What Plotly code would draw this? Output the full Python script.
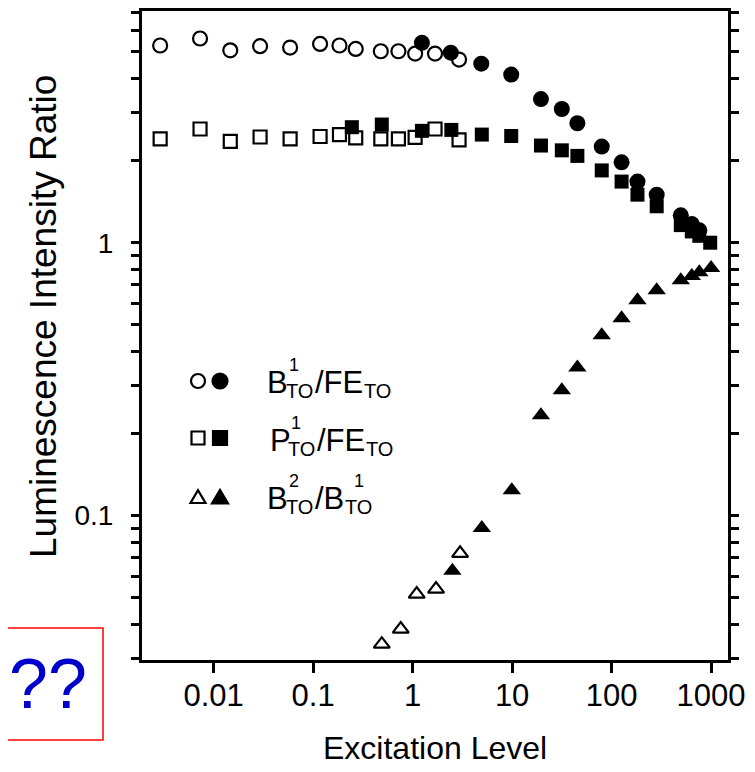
import plotly.graph_objects as go

# ---------------- data ----------------
x_open_circ = [0.0029, 0.0073, 0.0147, 0.0293, 0.0587, 0.1175, 0.184, 0.268, 0.479, 0.72, 1.06, 1.68, 2.93]
y_open_circ = [5.28, 5.6, 5.07, 5.25, 5.19, 5.35, 5.28, 5.13, 5.03, 5.03, 4.93, 4.93, 4.69]
x_fill_circ = [1.24, 2.42, 4.9, 9.8, 19.5, 31.6, 45.3, 79.6, 126, 182, 284, 496, 640, 762]
y_fill_circ = [5.4, 4.97, 4.53, 4.13, 3.36, 3.09, 2.74, 2.25, 1.97, 1.675, 1.50, 1.26, 1.17, 1.11]

x_open_sq = [0.0029, 0.0073, 0.0147, 0.0293, 0.0587, 0.1175, 0.184, 0.268, 0.479, 0.72, 1.06, 1.68, 2.93]
y_open_sq = [2.40, 2.61, 2.35, 2.44, 2.40, 2.45, 2.49, 2.42, 2.40, 2.40, 2.43, 2.61, 2.38]
x_fill_sq = [0.245, 0.49, 1.24, 2.45, 4.96, 9.8, 19.5, 31.6, 45.3, 79.6, 126, 182, 284, 496, 640, 762, 980]
y_fill_sq = [2.65, 2.71, 2.57, 2.59, 2.49, 2.46, 2.27, 2.18, 2.08, 1.84, 1.675, 1.50, 1.36, 1.16, 1.10, 1.06, 1.0]

x_open_tri = [0.49, 0.76, 1.10, 1.72, 3.0]
y_open_tri = [0.0338, 0.0384, 0.0516, 0.0538, 0.0727]
x_fill_tri = [2.51, 4.96, 9.93, 19.5, 31.6, 45.3, 79.6, 126, 182, 284, 496, 640, 762, 1000]
y_fill_tri = [0.0628, 0.0901, 0.124, 0.233, 0.288, 0.349, 0.458, 0.529, 0.615, 0.67, 0.729, 0.755, 0.78, 0.807]

x_tick_vals = [0.01, 0.1, 1, 10, 100, 1000]
x_tick_text = ["0.01", "0.1", "1", "10", "100", "1000"]
y_tick_vals = [0.1, 1]
y_tick_text = ["0.1", "1"]
y_minor_vals = [0.03, 0.04, 0.05, 0.06, 0.07, 0.08, 0.09,
                0.2, 0.3, 0.4, 0.5, 0.6, 0.7, 0.8, 0.9,
                2, 3, 4, 5, 6, 7]

# ---------------- layout geometry (page pixels) ----------------
OFF = 8                      # default page body margin
W, H = 755 - OFF, 772 - OFF  # figure size
PL, PR, PT, PB = 142, 728, 11, 660   # plot frame in page pixels
PW, PH = PR - PL, PB - PT
FONT = "Liberation Sans, Arial, Helvetica, sans-serif"


def px(xp):
    return (xp - PL) / PW


def py(yp):
    return (PB - yp) / PH


fig = go.Figure()

def add(x, y, symbol, size, lw=2.2):
    fig.add_trace(go.Scatter(
        x=x, y=y, mode="markers", showlegend=False, hoverinfo="skip",
        marker=dict(symbol=symbol, size=size, color="black",
                    line=dict(color="black", width=lw))))

add(x_open_circ, y_open_circ, "circle-open", 14)
add(x_open_sq, y_open_sq, "square-open", 13)
add(x_open_tri, y_open_tri, "triangle-up-open", 14)
add(x_fill_circ, y_fill_circ, "circle", 16, 0)
add(x_fill_sq, y_fill_sq, "square", 14, 0)
add(x_fill_tri, y_fill_tri, "triangle-up", 16, 0)

shapes = []
annotations = []

# legend key symbols
def circle(cx, cy, r, filled):
    shapes.append(dict(type="circle", xref="paper", yref="paper",
                       x0=px(cx - r), x1=px(cx + r), y0=py(cy + r), y1=py(cy - r),
                       line=dict(color="black", width=2.2),
                       fillcolor="black" if filled else "white"))

def square(cx, cy, r, filled):
    shapes.append(dict(type="rect", xref="paper", yref="paper",
                       x0=px(cx - r), x1=px(cx + r), y0=py(cy + r), y1=py(cy - r),
                       line=dict(color="black", width=2.2),
                       fillcolor="black" if filled else "white"))

def tri(cx, cy, r, filled):
    p = "M {:.5f} {:.5f} L {:.5f} {:.5f} L {:.5f} {:.5f} Z".format(
        px(cx - r), py(cy + r * 0.8), px(cx + r), py(cy + r * 0.8), px(cx), py(cy - r * 0.9))
    shapes.append(dict(type="path", xref="paper", yref="paper", path=p,
                       line=dict(color="black", width=2.2),
                       fillcolor="black" if filled else "white"))

circle(198, 381, 7, False); circle(220, 381, 7.5, True)
square(198, 438, 6.5, False); square(220, 438, 7, True)
tri(198, 497, 7.5, False); tri(220, 497, 8, True)

def txt(s, xl, yc, size):
    annotations.append(dict(text=s, xref="paper", yref="paper", x=px(xl), y=py(yc),
                            xanchor="left", yanchor="middle", showarrow=False,
                            font=dict(family=FONT, size=size, color="black")))

BIG, SUP, SUB = 31, 18, 20
# row 1: B^1_TO / FE_TO
txt("B", 265, 382, BIG); txt("1", 287, 365, SUP); txt("TO", 284, 391, SUB)
txt("/FE", 313, 382, BIG); txt("TO", 362, 391, SUB)
# row 2: P^1_TO / FE_TO
txt("P", 268, 440, BIG); txt("1", 289, 423, SUP); txt("TO", 286, 449, SUB)
txt("/FE", 315, 440, BIG); txt("TO", 364, 449, SUB)
# row 3: B^2_TO / B^1_TO
txt("B", 265, 498, BIG); txt("2", 287, 481, SUP); txt("TO", 284, 507, SUB)
txt("/B", 313, 498, BIG); txt("1", 352, 481, SUP); txt("TO", 343, 507, SUB)

# "??" box
shapes.append(dict(type="rect", xref="paper", yref="paper",
                   x0=px(-2), x1=px(103), y0=py(740), y1=py(628),
                   line=dict(color="#ff0000", width=1.5), fillcolor="rgba(0,0,0,0)"))
annotations.append(dict(text="??", xref="paper", yref="paper", x=px(48), y=py(684),
                        xanchor="center", yanchor="middle", showarrow=False,
                        font=dict(family=FONT, size=70, color="#0000cc")))

# axis titles
annotations.append(dict(text="Excitation Level", xref="paper", yref="paper",
                        x=px(435), y=py(748), xanchor="center", yanchor="middle",
                        showarrow=False, font=dict(family=FONT, size=32, color="black")))
annotations.append(dict(text="Luminescence Intensity Ratio", xref="paper", yref="paper",
                        x=px(43), y=py(317), xanchor="center", yanchor="middle",
                        textangle=-90, showarrow=False,
                        font=dict(family=FONT, size=37, color="black")))

fig.update_layout(
    width=W, height=H,
    margin=dict(l=PL - OFF, r=W - (PR - OFF), t=PT - OFF, b=H - (PB - OFF), autoexpand=False),
    paper_bgcolor="white", plot_bgcolor="white",
    font=dict(family=FONT, color="black"),
    shapes=shapes, annotations=annotations,
    xaxis=dict(type="log", range=[-2.72, 3.17], tickvals=x_tick_vals, ticktext=x_tick_text,
               ticks="outside", ticklen=10, tickwidth=3, tickcolor="black",
               showline=True, linewidth=3, linecolor="black", mirror=True,
               showgrid=False, zeroline=False, tickfont=dict(size=31),
               ticklabelstandoff=-4),
    yaxis=dict(type="log", range=[-1.529, 0.849], tickvals=y_tick_vals, ticktext=y_tick_text,
               ticks="outside", ticklen=8, tickwidth=3, tickcolor="black",
               showline=True, linewidth=3, linecolor="black", mirror="allticks",
               showgrid=False, zeroline=False, tickfont=dict(size=28),
               ticklabelstandoff=12,
               minor=dict(tickvals=y_minor_vals, ticks="outside", ticklen=8, tickwidth=3,
                          tickcolor="black", showgrid=False)),
)

fig.write_html("out.html")
